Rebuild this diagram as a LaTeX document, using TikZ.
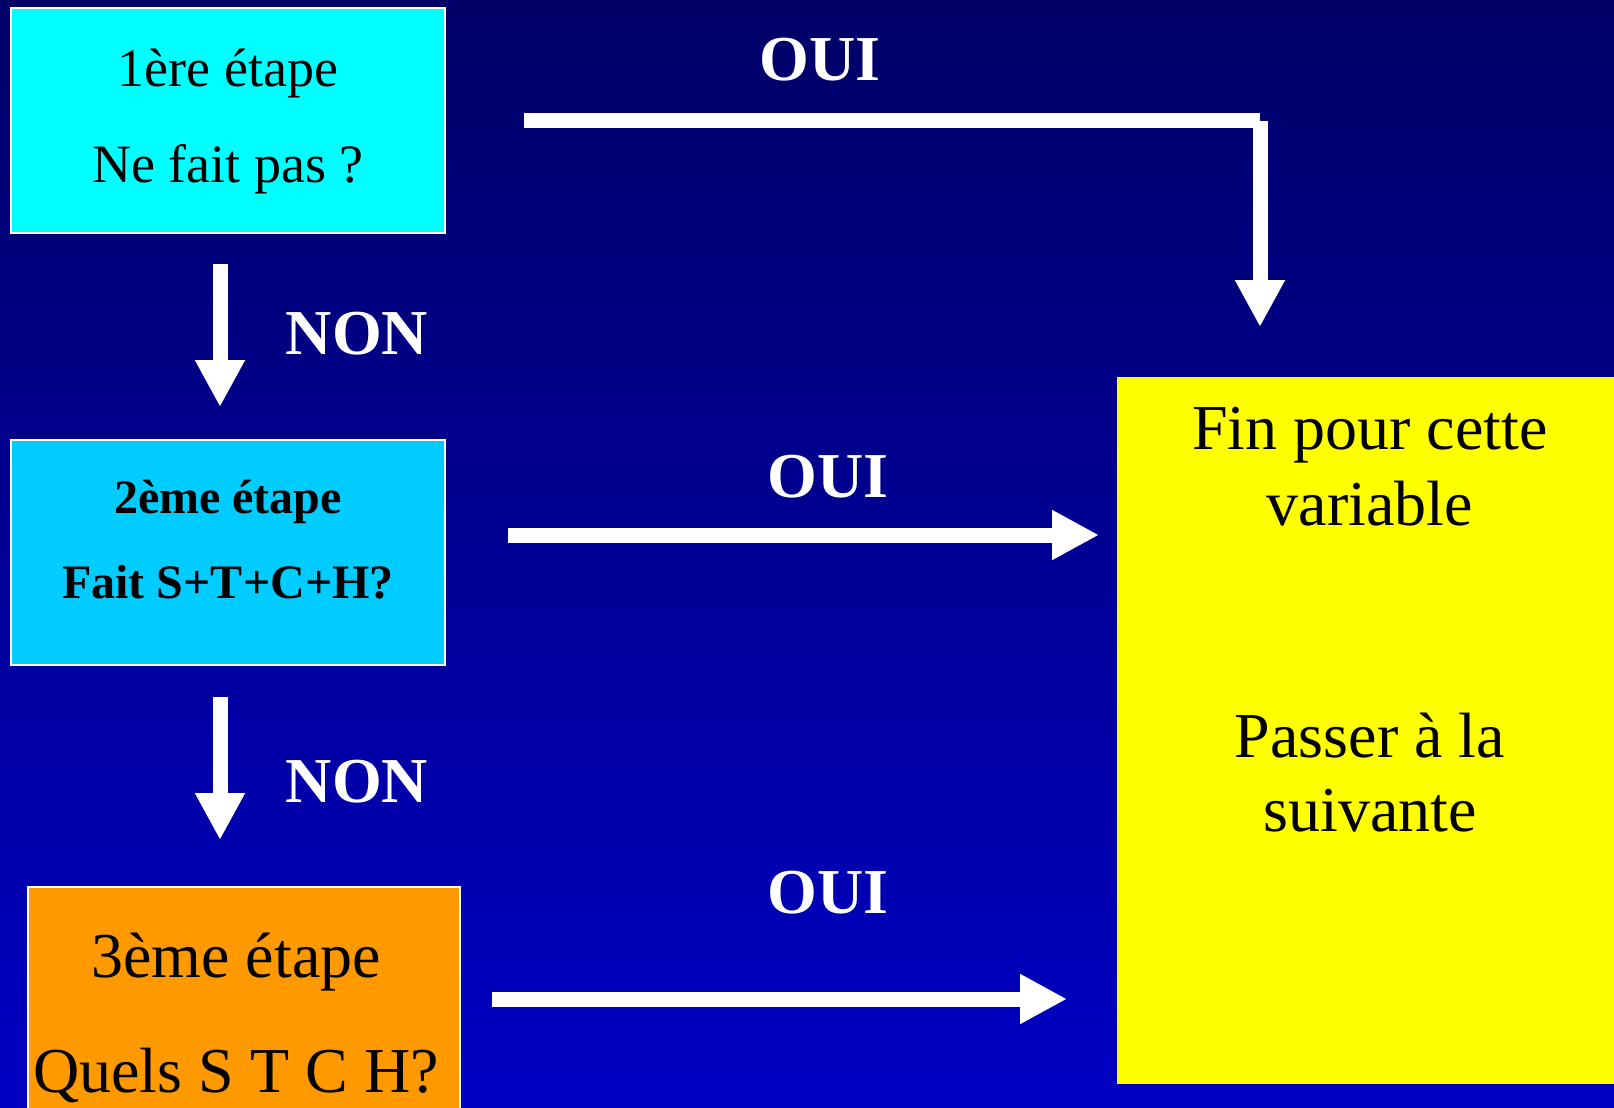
\documentclass[tikz,border=0pt]{standalone}
\usepackage{fontspec}
\setmainfont{Liberation Serif}
\usetikzlibrary{arrows.meta}
\definecolor{bgtop}{RGB}{0,0,102}
\definecolor{bgbot}{RGB}{0,0,196}
\definecolor{cyanA}{RGB}{0,255,255}
\definecolor{cyanB}{RGB}{0,204,255}
\definecolor{orangeC}{RGB}{255,153,0}
\definecolor{yellowD}{RGB}{255,255,0}
\begin{document}
\begin{tikzpicture}[x=0.5pt,y=-0.5pt,
  box/.style={draw=white, line width=0.8pt, inner sep=0pt, outer sep=0pt},
  txt/.style={anchor=base, inner sep=0pt, text=black},
  lbl/.style={anchor=base, inner sep=0pt, text=white, font=\fontsize{32}{38}\selectfont\bfseries},
  bigarrow/.style={white, line width=7.5pt, -{Triangle[width=23.5pt,length=23.5pt]}},
  bar/.style={white, line width=7.5pt}]
\useasboundingbox (0,0) rectangle (1614,1108);
\shade[top color=bgtop, bottom color=bgbot] (0,0) rectangle (1614,1108);

% boxes
\node[box, fill=cyanA, minimum width=217pt, minimum height=112.5pt] (b1) at (228,120.5) {};
\node[box, fill=cyanB, minimum width=217pt, minimum height=112.5pt] (b2) at (228,552.5) {};
\node[box, fill=orangeC, minimum width=216pt, minimum height=114pt] (b3) at (244,1001) {};
\node[fill=yellowD, inner sep=0pt, minimum width=251.5pt, minimum height=353.5pt] (b4) at (1368.5,730.5) {};

% texts
\node[txt, font=\fontsize{27}{32}\selectfont] (t1a) at (228,86) {1ère étape};
\node[txt, font=\fontsize{27}{32}\selectfont] (t1b) at (228,182) {Ne fait pas ?};
\node[txt, font=\fontsize{24}{29}\selectfont\bfseries] (t2a) at (228,513) {2ème étape};
\node[txt, font=\fontsize{24}{29}\selectfont\bfseries] (t2b) at (228,598) {Fait S+T+C+H?};
\node[txt, font=\fontsize{32}{38}\selectfont] (t3a) at (236,977) {3ème étape};
\node[txt, font=\fontsize{32}{38}\selectfont] (t3b) at (236,1092) {Quels S T C H?};
\node[txt, font=\fontsize{32}{38}\selectfont] (t4a) at (1370,449) {Fin pour cette};
\node[txt, font=\fontsize{32}{38}\selectfont] (t4b) at (1370,525) {variable};
\node[txt, font=\fontsize{32}{38}\selectfont] (t4c) at (1370,757) {Passer à la};
\node[txt, font=\fontsize{32}{38}\selectfont] (t4d) at (1370,831) {suivante};

% labels
\node[lbl] (oui1) at (820,80) {OUI};
\node[lbl] (oui2) at (828,497) {OUI};
\node[lbl] (oui3) at (828,913) {OUI};
\node[lbl] (non1) at (357,354) {NON};
\node[lbl] (non2) at (357,802) {NON};

% arrow end points
\coordinate (a1s) at (524,120.5);
\coordinate (a1c) at (1260,120.5);
\coordinate (a1e) at (1260,327);
\coordinate (d1s) at (220,264);
\coordinate (d1e) at (220,407);
\coordinate (d2s) at (220,697);
\coordinate (d2e) at (220,840);
\coordinate (a2s) at (508,535);
\coordinate (a2e) at (1099,535);
\coordinate (a3s) at (492,999);
\coordinate (a3e) at (1067,999);

% connectors
\draw[bar] (a1s) -- (a1c);
\draw[bigarrow] (a1c) -- (a1e);
\draw[bigarrow] (d1s) -- (d1e);
\draw[bigarrow] (d2s) -- (d2e);
\draw[bigarrow] (a2s) -- (a2e);
\draw[bigarrow] (a3s) -- (a3e);
\end{tikzpicture}
\end{document}
